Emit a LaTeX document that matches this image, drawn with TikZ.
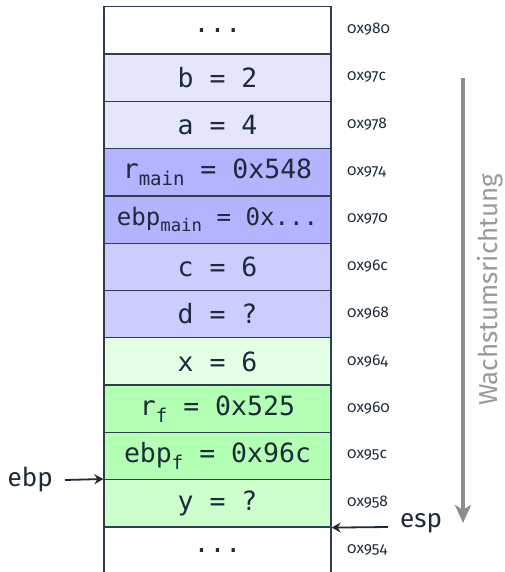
\documentclass[tikz,border=0pt]{standalone}
\usepackage{fontspec}
\setmainfont{Fira Sans}
\setmonofont{DejaVu Sans Mono}
\newfontfamily\addrfont{Fira Sans}[Numbers=OldStyle]
\usetikzlibrary{arrows.meta}
\definecolor{edge}{HTML}{2E3E4E}
\definecolor{ink}{HTML}{1C2B3A}
\definecolor{lav}{HTML}{E6E6FA}
\definecolor{blueA}{HTML}{B3B3FF}
\definecolor{blueB}{HTML}{CCCCFF}
\definecolor{grnL}{HTML}{E5FFE5}
\definecolor{grnA}{HTML}{B3FFB3}
\definecolor{grnB}{HTML}{CCFFCC}
\definecolor{growc}{HTML}{8C8C8C}
\definecolor{growt}{HTML}{9A9A9A}
\newcommand\monotxt{\ttfamily\fontsize{26.5}{30}\selectfont}
\newcommand\lowtxt[1]{\raisebox{-7pt}{\fontsize{19}{19}\selectfont #1}}
\tikzset{
  cell/.style={draw=edge, line width=1.3pt, minimum width=227pt, minimum height=47.3pt,
    inner sep=0pt, anchor=north, font=\monotxt, text=ink},
  addr/.style={anchor=west, inner sep=0pt, font=\addrfont\fontsize{15.5}{18}\selectfont, text=ink},
  ptr/.style={line width=1.8pt, draw=ink, -{Stealth[length=9pt,width=10pt,inset=3pt]}},
  regname/.style={font=\fontsize{26}{30}\selectfont, text=ink},
}
\begin{document}
\begin{tikzpicture}[x=1pt,y=-1pt]
\useasboundingbox (0,0) rectangle (504,572);
\node[cell, fill=white] (r1) at (217.5,6) {...};
\node[cell, fill=lav] (r2) at (217.5,53.3) {b = 2};
\node[cell, fill=lav] (r3) at (217.5,100.6) {a = 4};
\node[cell, fill=blueA] (r4) at (217.5,147.9) {r\lowtxt{main} = 0x548};
\node[cell, fill=blueA] (r5) at (217.5,195.2) {\scalebox{0.91}{ebp\lowtxt{main} = 0x...}};
\node[cell, fill=blueB] (r6) at (217.5,242.5) {c = 6};
\node[cell, fill=blueB] (r7) at (217.5,289.8) {d = ?};
\node[cell, fill=grnL] (r8) at (217.5,337.1) {x = 6};
\node[cell, fill=grnA] (r9) at (217.5,384.4) {r\lowtxt{f} = 0x525};
\node[cell, fill=grnA] (r10) at (217.5,431.7) {ebp\lowtxt{f} = 0x96c};
\node[cell, fill=grnB] (r11) at (217.5,479.0) {y = ?};
\node[cell, fill=white] (r12) at (217.5,526.3) {...};
\node[addr] (a1) at (347,29.6) {0x980};
\node[addr] (a2) at (347,76.9) {0x97c};
\node[addr] (a3) at (347,124.2) {0x978};
\node[addr] (a4) at (347,171.5) {0x974};
\node[addr] (a5) at (347,218.8) {0x970};
\node[addr] (a6) at (347,266.1) {0x96c};
\node[addr] (a7) at (347,313.4) {0x968};
\node[addr] (a8) at (347,360.7) {0x964};
\node[addr] (a9) at (347,408.0) {0x960};
\node[addr] (a10) at (347,455.3) {0x95c};
\node[addr] (a11) at (347,502.6) {0x958};
\node[addr] (a12) at (347,549.9) {0x954};
\node[regname, inner xsep=12pt, inner ysep=0pt, anchor=east] (ebp) at (65,480) {ebp};
\draw[ptr] (ebp.east) -- (r11.north west);
\node[regname, inner sep=0pt, anchor=base west] (esp) at (400,527) {esp};
\draw[ptr] ([xshift=-12pt]esp.base west) -- (r11.south east);
\coordinate (gtop) at (463,78);
\coordinate (gbot) at (463,523);
\draw[line width=3.5pt, draw=growc, -{Stealth[length=18pt,width=16pt,inset=5pt]}] (gtop) -- (gbot);
\node[rotate=90, text=growt, inner sep=0pt, font=\fontsize{26}{30}\selectfont] (grow) at (490,290) {Wachstumsrichtung};
\end{tikzpicture}
\end{document}
